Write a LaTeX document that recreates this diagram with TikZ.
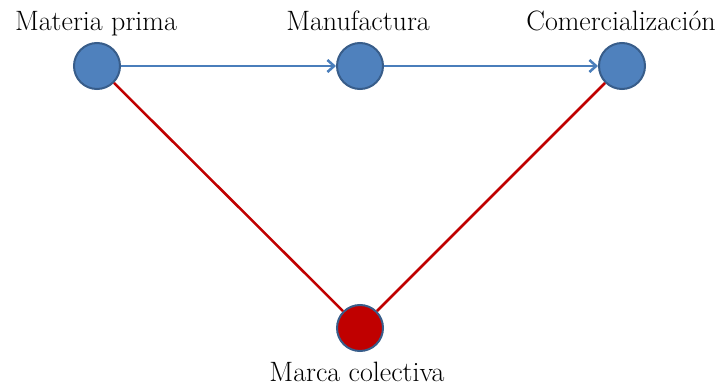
\documentclass[tikz,border=0pt]{standalone}
\usepackage{fontspec}
\usepackage{tikz}
\usetikzlibrary{arrows.meta}
\definecolor{nodeblue}{RGB}{79,129,189}
\definecolor{rimblue}{RGB}{56,93,138}
\definecolor{lineblue}{RGB}{74,126,187}
\definecolor{linered}{RGB}{192,0,0}

\begin{document}
\begin{tikzpicture}[x=0.75pt,y=-0.75pt,>={Straight Barb[length=5pt,width=9pt]}]
\tikzstyle{every node}+=[inner sep=0pt]
\tikzstyle{stage}=[circle, draw=rimblue, fill=nodeblue, line width=1.5pt, minimum size=34.5pt]
\tikzstyle{brand}=[stage, fill=linered]
\tikzstyle{caption}=[font=\fontsize{21}{25}\selectfont, anchor=base]
\tikzstyle{flow}=[draw=lineblue, line width=1.9pt, ->]
\tikzstyle{link}=[draw=linered, line width=1.9pt]
\useasboundingbox (0,0) rectangle (721,385);
% chain stages
\node[stage] (raw) at (97,66) {};
\node[stage] (make) at (360,66) {};
\node[stage] (sell) at (622,66) {};
\node[brand] (brand) at (360,328) {};
% captions
\node[caption] (rawtext) at (96,31) {Materia prima};
\node[caption] (maketext) at (358,31) {Manufactura};
\node[caption] (selltext) at (621,31) {Comercialización};
\node[caption] (brandtext) at (357,381) {Marca colectiva};
% connectors
\draw[flow] (raw) -- (make);
\draw[flow] (make) -- (sell);
\draw[link] (raw) -- (brand);
\draw[link] (sell) -- (brand);
\end{tikzpicture}
\end{document}
